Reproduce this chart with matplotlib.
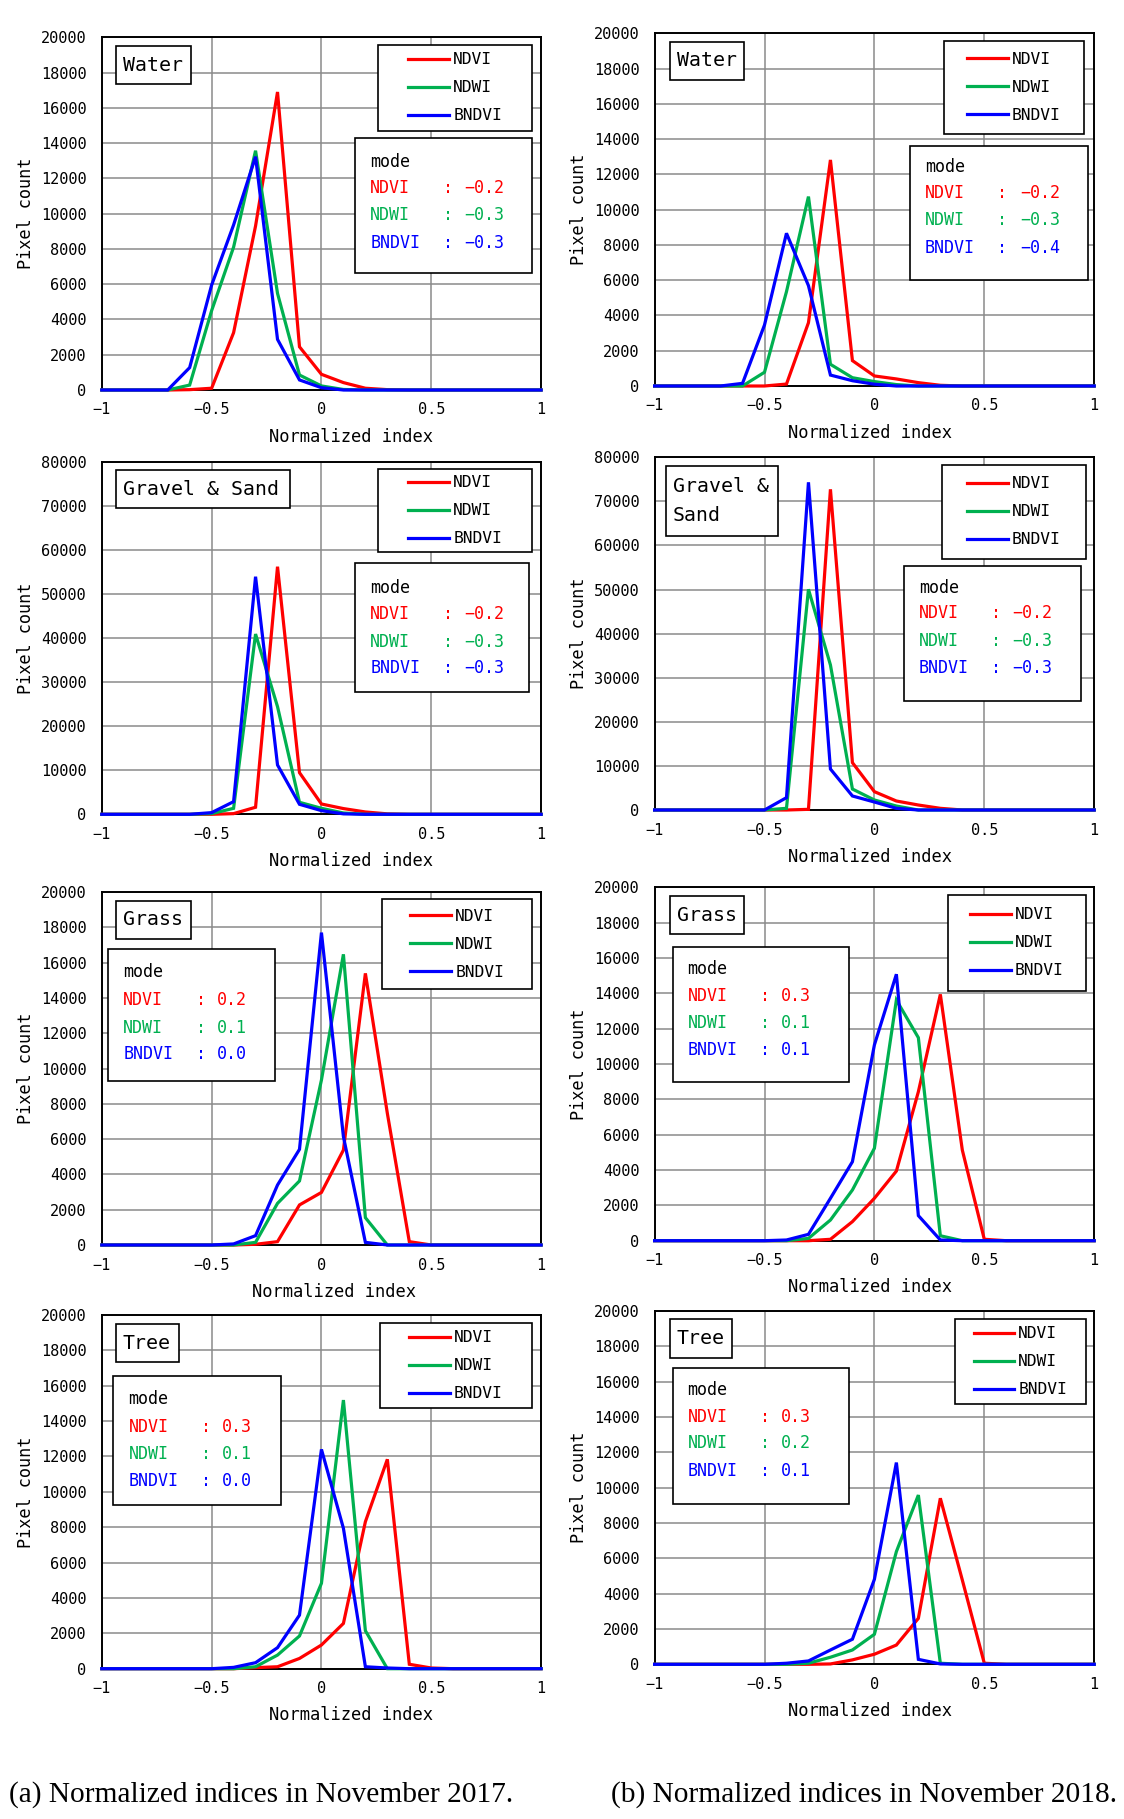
import matplotlib
matplotlib.use("Agg")
import matplotlib.pyplot as plt
from matplotlib.patches import Rectangle

# ---------------- data ----------------
x_index = [-1.0, -0.9, -0.8, -0.7, -0.6, -0.5, -0.4, -0.3, -0.2, -0.1, 0.0,
           0.1, 0.2, 0.3, 0.4, 0.5, 0.6, 0.7, 0.8, 0.9, 1.0]
series_names = ["NDVI", "NDWI", "BNDVI"]
classes = ["Water", "Gravel & Sand", "Grass", "Tree"]
years = ["2017", "2018"]

water_2017_ndvi = [0, 0, 0, 0, 20, 100, 3250, 9300, 16900, 2450, 890, 420, 100, 20, 0, 0, 0, 0, 0, 0, 0]
water_2017_ndwi = [0, 0, 0, 0, 280, 4500, 8100, 13570, 5480, 850, 230, 30, 0, 0, 0, 0, 0, 0, 0, 0, 0]
water_2017_bndvi = [0, 0, 0, 0, 1270, 5950, 9360, 13230, 2870, 570, 130, 0, 0, 0, 0, 0, 0, 0, 0, 0, 0]
water_2018_ndvi = [0, 0, 0, 0, 0, 0, 110, 3590, 12820, 1440, 570, 400, 190, 40, 0, 0, 0, 0, 0, 0, 0]
water_2018_ndwi = [0, 0, 0, 0, 0, 780, 5350, 10740, 1230, 470, 250, 80, 0, 0, 0, 0, 0, 0, 0, 0, 0]
water_2018_bndvi = [0, 0, 0, 0, 150, 3460, 8660, 5690, 620, 300, 100, 0, 0, 0, 0, 0, 0, 0, 0, 0, 0]

gravel_2017_ndvi = [0, 0, 0, 0, 0, 0, 150, 1600, 56180, 9450, 2340, 1300, 530, 100, 0, 0, 0, 0, 0, 0, 0]
gravel_2017_ndwi = [0, 0, 0, 0, 0, 150, 1360, 40900, 24420, 2720, 1360, 300, 0, 0, 0, 0, 0, 0, 0, 0, 0]
gravel_2017_bndvi = [0, 0, 0, 0, 0, 380, 2870, 53910, 11190, 2270, 830, 100, 0, 0, 0, 0, 0, 0, 0, 0, 0]
gravel_2018_ndvi = [0, 0, 0, 0, 0, 0, 0, 150, 72740, 10740, 4160, 2040, 1130, 380, 0, 0, 0, 0, 0, 0, 0]
gravel_2018_ndwi = [0, 0, 0, 0, 0, 0, 380, 50060, 32890, 4760, 2270, 900, 0, 0, 0, 0, 0, 0, 0, 0, 0]
gravel_2018_bndvi = [0, 0, 0, 0, 0, 0, 2800, 74330, 9300, 3180, 1810, 380, 0, 0, 0, 0, 0, 0, 0, 0, 0]

grass_2017_ndvi = [0, 0, 0, 0, 0, 0, 0, 40, 190, 2270, 2980, 5380, 15390, 7460, 190, 0, 0, 0, 0, 0, 0]
grass_2017_ndwi = [0, 0, 0, 0, 0, 0, 0, 150, 2360, 3630, 9350, 16470, 1550, 0, 0, 0, 0, 0, 0, 0, 0]
grass_2017_bndvi = [0, 0, 0, 0, 0, 0, 60, 530, 3400, 5420, 17700, 6140, 150, 0, 0, 0, 0, 0, 0, 0, 0]
grass_2018_ndvi = [0, 0, 0, 0, 0, 0, 0, 0, 80, 1080, 2400, 3940, 8430, 13940, 5130, 80, 0, 0, 0, 0, 0]
grass_2018_ndwi = [0, 0, 0, 0, 0, 0, 0, 130, 1170, 2870, 5230, 13620, 11490, 280, 0, 0, 0, 0, 0, 0, 0]
grass_2018_bndvi = [0, 0, 0, 0, 0, 0, 40, 360, 2400, 4470, 11080, 15080, 1420, 40, 0, 0, 0, 0, 0, 0, 0]

tree_2017_ndvi = [0, 0, 0, 0, 0, 0, 0, 60, 110, 580, 1340, 2560, 8310, 11840, 250, 40, 0, 0, 0, 0, 0]
tree_2017_ndwi = [0, 0, 0, 0, 0, 0, 0, 110, 770, 1850, 4830, 15190, 2150, 0, 0, 0, 0, 0, 0, 0, 0]
tree_2017_bndvi = [0, 0, 0, 0, 0, 0, 75, 340, 1190, 3030, 12400, 7940, 110, 40, 0, 0, 0, 0, 0, 0, 0]
tree_2018_ndvi = [0, 0, 0, 0, 0, 0, 0, 0, 20, 250, 570, 1090, 2600, 9400, 4770, 60, 0, 0, 0, 0, 0]
tree_2018_ndwi = [0, 0, 0, 0, 0, 0, 0, 60, 400, 810, 1700, 6380, 9580, 60, 0, 0, 0, 0, 0, 0, 0]
tree_2018_bndvi = [0, 0, 0, 0, 0, 0, 60, 190, 810, 1420, 4810, 11420, 280, 20, 0, 0, 0, 0, 0, 0, 0]

mode_2017 = {"Water": ["\u22120.2", "\u22120.3", "\u22120.3"],
             "Gravel & Sand": ["\u22120.2", "\u22120.3", "\u22120.3"],
             "Grass": ["0.2", "0.1", "0.0"],
             "Tree": ["0.3", "0.1", "0.0"]}
mode_2018 = {"Water": ["\u22120.2", "\u22120.3", "\u22120.4"],
             "Gravel & Sand": ["\u22120.2", "\u22120.3", "\u22120.3"],
             "Grass": ["0.3", "0.1", "0.1"],
             "Tree": ["0.3", "0.2", "0.1"]}

x_ticks = [-1, -0.5, 0, 0.5, 1]
x_ticklabels = ["\u22121", "\u22120.5", "0", "0.5", "1"]
y_ticks_20k = [0, 2000, 4000, 6000, 8000, 10000, 12000, 14000, 16000, 18000, 20000]
y_ticks_80k = [0, 10000, 20000, 30000, 40000, 50000, 60000, 70000, 80000]

captions = ["(a) Normalized indices in November 2017.",
            "(b) Normalized indices in November 2018."]

series_data = {
    ("Water", "2017"): [water_2017_ndvi, water_2017_ndwi, water_2017_bndvi],
    ("Water", "2018"): [water_2018_ndvi, water_2018_ndwi, water_2018_bndvi],
    ("Gravel & Sand", "2017"): [gravel_2017_ndvi, gravel_2017_ndwi, gravel_2017_bndvi],
    ("Gravel & Sand", "2018"): [gravel_2018_ndvi, gravel_2018_ndwi, gravel_2018_bndvi],
    ("Grass", "2017"): [grass_2017_ndvi, grass_2017_ndwi, grass_2017_bndvi],
    ("Grass", "2018"): [grass_2018_ndvi, grass_2018_ndwi, grass_2018_bndvi],
    ("Tree", "2017"): [tree_2017_ndvi, tree_2017_ndwi, tree_2017_bndvi],
    ("Tree", "2018"): [tree_2018_ndvi, tree_2018_ndwi, tree_2018_bndvi],
}
modes = {"2017": mode_2017, "2018": mode_2018}

# ---------------- style / layout ----------------
colors = ["#FF0000", "#00B050", "#0000FF"]
MONO = "DejaVu Sans Mono"
FIG_W, FIG_H = 1124, 1819

LA, RA = 101.8, 541.1      # column (a) left/right in pixels
LB, RB = 654.6, 1094.2     # column (b) left/right in pixels
# axes boxes in pixels: left, top, right, bottom
axes_px = {
    (0, 0): (LA, 37.3, RA, 390), (0, 1): (LB, 33.3, RB, 386),
    (1, 0): (LA, 461.7, RA, 814.3), (1, 1): (LB, 457.3, RB, 810),
    (2, 0): (LA, 892, RA, 1245), (2, 1): (LB, 887.3, RB, 1240.7),
    (3, 0): (LA, 1315, RA, 1668.7), (3, 1): (LB, 1311, RB, 1664.3),
}
# per panel layout in axes fractions
layout = {
    (0, 0): dict(title=(0.032, 0.867, 0.203, 0.975), title_lines=["Water"],
                 leg=(0.629, 0.735, 0.980, 0.978),
                 mode=(0.576, 0.331, 0.980, 0.715), mx=0.611,
                 my=[0.647, 0.573, 0.496, 0.418], cx=0.776, vx=0.824, xl=0.568),
    (0, 1): dict(title=(0.034, 0.868, 0.204, 0.976), title_lines=["Water"],
                 leg=(0.658, 0.714, 0.977, 0.979),
                 mode=(0.581, 0.300, 0.986, 0.681), mx=0.615,
                 my=[0.622, 0.546, 0.471, 0.392], cx=0.779, vx=0.832, xl=0.491),
    (1, 0): dict(title=(0.032, 0.868, 0.428, 0.976), title_lines=["Gravel & Sand"],
                 leg=(0.629, 0.743, 0.980, 0.978),
                 mode=(0.576, 0.348, 0.973, 0.712), mx=0.611,
                 my=[0.643, 0.567, 0.489, 0.414], cx=0.776, vx=0.824, xl=0.568),
    (1, 1): dict(title=(0.025, 0.777, 0.280, 0.976), title_lines=["Gravel &", "Sand"],
                 leg=(0.654, 0.713, 0.981, 0.978),
                 mode=(0.568, 0.310, 0.970, 0.692), mx=0.601,
                 my=[0.629, 0.558, 0.479, 0.403], cx=0.765, vx=0.814, xl=0.491),
    (2, 0): dict(title=(0.032, 0.867, 0.203, 0.975), title_lines=["Grass"],
                 leg=(0.638, 0.724, 0.980, 0.979),
                 mode=(0.015, 0.466, 0.394, 0.838), mx=0.049,
                 my=[0.774, 0.694, 0.616, 0.540], cx=0.214, vx=0.262, xl=0.529),
    (2, 1): dict(title=(0.034, 0.867, 0.204, 0.976), title_lines=["Grass"],
                 leg=(0.667, 0.707, 0.981, 0.978),
                 mode=(0.041, 0.449, 0.443, 0.830), mx=0.075,
                 my=[0.768, 0.693, 0.617, 0.540], cx=0.239, vx=0.288, xl=0.491),
    (3, 0): dict(title=(0.032, 0.866, 0.175, 0.975), title_lines=["Tree"],
                 leg=(0.633, 0.736, 0.980, 0.977),
                 mode=(0.026, 0.463, 0.409, 0.828), mx=0.061,
                 my=[0.762, 0.684, 0.606, 0.531], cx=0.225, vx=0.274, xl=0.568),
    (3, 1): dict(title=(0.034, 0.868, 0.176, 0.976), title_lines=["Tree"],
                 leg=(0.683, 0.736, 0.981, 0.977),
                 mode=(0.041, 0.454, 0.443, 0.838), mx=0.075,
                 my=[0.776, 0.701, 0.625, 0.548], cx=0.239, vx=0.288, xl=0.491),
}

fig = plt.figure(figsize=(FIG_W / 100, FIG_H / 100), dpi=100)


def add_box(ax, box):
    x0, y0, x1, y1 = box
    ax.add_patch(Rectangle((x0, y0), x1 - x0, y1 - y0, transform=ax.transAxes,
                           facecolor="white", edgecolor="black", linewidth=1.2,
                           zorder=6, clip_on=False))


for r, cls in enumerate(classes):
    for c, yr in enumerate(years):
        L, T, R, B = axes_px[(r, c)]
        w, h = R - L, B - T
        ax = fig.add_axes([L / FIG_W, 1 - B / FIG_H, w / FIG_W, h / FIG_H])
        lay = layout[(r, c)]
        lines = []
        for name, col, vals in zip(series_names, colors, series_data[(cls, yr)]):
            ln, = ax.plot(x_index, vals, color=col, linewidth=2.3, label=name,
                          clip_on=False, zorder=3, solid_joinstyle="miter")
            lines.append(ln)
        ax.set_xlim(-1, 1)
        yt = y_ticks_80k if cls == "Gravel & Sand" else y_ticks_20k
        ax.set_ylim(yt[0], yt[-1])
        ax.set_xticks(x_ticks)
        ax.set_xticklabels(x_ticklabels)
        ax.set_yticks(yt)
        ax.set_yticklabels([str(v) for v in yt])
        ax.grid(True, color="#8a8a8a", linewidth=1.1)
        ax.set_axisbelow(True)
        for sp in ax.spines.values():
            sp.set_linewidth(1.4)
            sp.set_color("black")
        ax.tick_params(axis="y", length=0, labelsize=11, pad=11)
        ax.tick_params(axis="x", length=0, labelsize=11, pad=9)
        for lbl in ax.get_xticklabels() + ax.get_yticklabels():
            lbl.set_fontfamily(MONO)
        ax.set_ylabel("Pixel count", fontfamily=MONO, fontsize=12.2)
        ax.yaxis.set_label_coords(-75.5 / w, 0.5)
        ax.set_xlabel("Normalized index", fontfamily=MONO, fontsize=12.3)
        ax.xaxis.set_label_coords(lay["xl"], -46.7 / h)
        ax.xaxis.label.set_va("center")
        ax.yaxis.label.set_va("center")

        # title box
        add_box(ax, lay["title"])
        tx0, ty0, tx1, ty1 = lay["title"]
        ax.text(tx0 + 7 / w, (ty0 + ty1) / 2, "\n".join(lay["title_lines"]),
                transform=ax.transAxes, ha="left", va="center", fontfamily=MONO,
                fontsize=14.3, linespacing=1.7, zorder=7)

        # legend box
        add_box(ax, lay["leg"])
        lx0, ly0, lx1, ly1 = lay["leg"]
        leg = ax.legend(handles=lines, loc="center", bbox_to_anchor=((lx0 + lx1) / 2, (ly0 + ly1) / 2),
                        frameon=False, prop={"family": MONO, "size": 11.7},
                        handlelength=2.5, handletextpad=0.25, labelspacing=0.8,
                        borderpad=0, borderaxespad=0)
        leg.set_zorder(8)

        # mode box
        add_box(ax, lay["mode"])
        ax.text(lay["mx"], lay["my"][0], "mode", transform=ax.transAxes, ha="left",
                va="center", fontfamily=MONO, fontsize=12, zorder=7)
        for k, (name, col) in enumerate(zip(series_names, colors)):
            yy = lay["my"][k + 1]
            ax.text(lay["mx"], yy, name, transform=ax.transAxes, ha="left", va="center",
                    fontfamily=MONO, fontsize=12, color=col, zorder=7)
            ax.text(lay["cx"], yy, ":", transform=ax.transAxes, ha="left", va="center",
                    fontfamily=MONO, fontsize=12, color=col, zorder=7)
            ax.text(lay["vx"], yy, modes[yr][cls][k], transform=ax.transAxes, ha="left",
                    va="center", fontfamily=MONO, fontsize=12, color=col, zorder=7)

fig.text(9 / FIG_W, 1 - 1795 / FIG_H, captions[0], fontfamily="Liberation Serif",
         fontsize=21.2, ha="left", va="center")
fig.text(611 / FIG_W, 1 - 1795 / FIG_H, captions[1], fontfamily="Liberation Serif",
         fontsize=21.2, ha="left", va="center")

fig.savefig("out.png", dpi=100, facecolor="white")
